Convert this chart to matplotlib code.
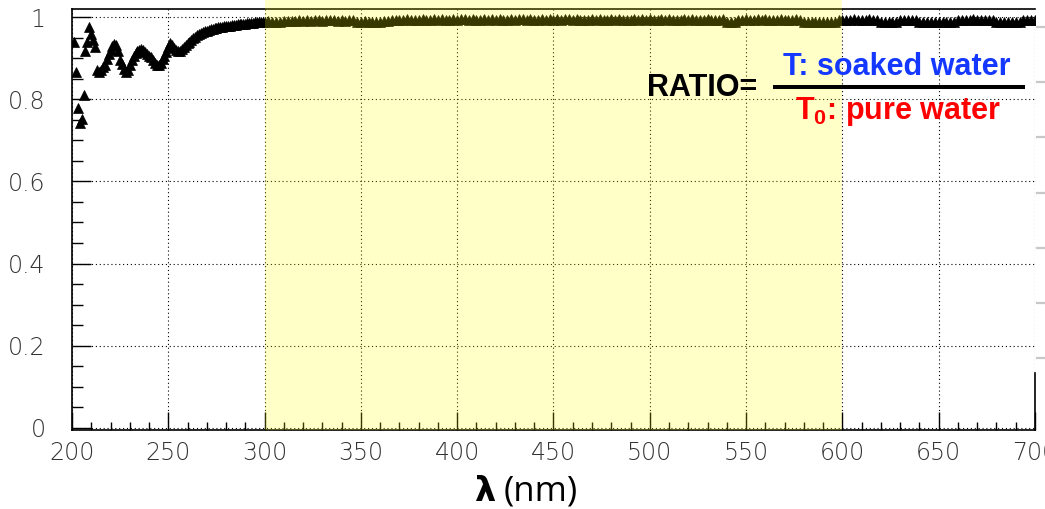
import matplotlib
matplotlib.use('Agg')
import matplotlib.pyplot as plt
import numpy as np
from matplotlib.ticker import MultipleLocator, FuncFormatter

# transmittance ratio of soaked water over pure water
# scattered points at the deep-UV end
wl_uv = [201, 202, 203, 204, 205, 206, 207, 208, 209, 210, 211, 212]
ratio_uv = [0.938, 0.865, 0.779, 0.742, 0.752, 0.810, 0.918, 0.940,
            0.976, 0.958, 0.944, 0.926]

# 213 - 299 nm, 1 nm steps
wl_mid = np.arange(213, 300)
ratio_mid = [0.872, 0.866, 0.871, 0.878, 0.884, 0.897, 0.911, 0.920, 0.929, 0.935,
             0.931, 0.918, 0.896, 0.886, 0.874, 0.867, 0.872, 0.884, 0.896, 0.905,
             0.913, 0.917, 0.919, 0.922, 0.920, 0.914, 0.909, 0.906, 0.903, 0.896,
             0.889, 0.884, 0.883, 0.889, 0.897, 0.905, 0.916, 0.928, 0.936, 0.933,
             0.925, 0.919, 0.918, 0.917, 0.921, 0.926, 0.931, 0.936, 0.940, 0.944,
             0.948, 0.952, 0.956, 0.959, 0.961, 0.963, 0.965, 0.967, 0.969, 0.970,
             0.972, 0.973, 0.974, 0.975, 0.975, 0.976, 0.977, 0.978, 0.978, 0.979,
             0.980, 0.981, 0.981, 0.982, 0.983, 0.983, 0.984, 0.984, 0.985, 0.985,
             0.986, 0.986, 0.987, 0.987, 0.988, 0.988, 0.989]

# 300 - 700 nm, 2 nm steps
wl_vis = np.arange(300, 701, 2)
ratio_vis = [0.989, 0.990, 0.988, 0.987, 0.988, 0.990, 0.991, 0.990, 0.991, 0.992,
             0.991, 0.992, 0.991, 0.993, 0.992, 0.991, 0.992, 0.993, 0.992, 0.991,
             0.992, 0.991, 0.993, 0.992, 0.989, 0.988, 0.990, 0.988, 0.989, 0.988,
             0.989, 0.990, 0.991, 0.992, 0.993, 0.992, 0.993, 0.994, 0.993, 0.992,
             0.993, 0.994, 0.993, 0.992, 0.994, 0.993, 0.994, 0.993, 0.992, 0.994,
             0.993, 0.994, 0.995, 0.993, 0.994, 0.993, 0.992, 0.994, 0.993, 0.994,
             0.993, 0.994, 0.993, 0.992, 0.994, 0.993, 0.994, 0.995, 0.993, 0.994,
             0.993, 0.992, 0.994, 0.993, 0.994, 0.993, 0.994, 0.993, 0.995, 0.994,
             0.993, 0.994, 0.993, 0.992, 0.993, 0.994, 0.993, 0.994, 0.993, 0.992,
             0.994, 0.993, 0.994, 0.993, 0.992, 0.993, 0.994, 0.993, 0.994, 0.993,
             0.994, 0.993, 0.992, 0.994, 0.993, 0.994, 0.993, 0.992, 0.993, 0.994,
             0.993, 0.994, 0.993, 0.992, 0.993, 0.994, 0.993, 0.992, 0.993, 0.994,
             0.989, 0.988, 0.989, 0.992, 0.993, 0.994, 0.993, 0.992, 0.994, 0.993,
             0.994, 0.993, 0.992, 0.993, 0.994, 0.993, 0.992, 0.993, 0.994, 0.992,
             0.989, 0.988, 0.989, 0.988, 0.989, 0.988, 0.989, 0.988, 0.989, 0.992,
             0.993, 0.992, 0.993, 0.994, 0.993, 0.992, 0.993, 0.994, 0.993, 0.992,
             0.989, 0.988, 0.989, 0.988, 0.989, 0.992, 0.993, 0.992, 0.993, 0.992,
             0.989, 0.988, 0.989, 0.988, 0.989, 0.988, 0.989, 0.988, 0.989, 0.988,
             0.992, 0.993, 0.992, 0.993, 0.994, 0.993, 0.992, 0.993, 0.992, 0.993,
             0.989, 0.988, 0.989, 0.988, 0.989, 0.988, 0.989, 0.992, 0.993, 0.992,
             0.992]

band = (300, 600)  # highlighted wavelength window

plt.rcParams['mathtext.fontset'] = 'custom'
plt.rcParams['mathtext.rm'] = 'Liberation Sans:bold'
plt.rcParams['mathtext.it'] = 'Liberation Sans:bold'
plt.rcParams['mathtext.bf'] = 'Liberation Sans:bold'

W, H = 1045, 509
fig = plt.figure(figsize=(W / 100, H / 100), dpi=100)
ax = fig.add_axes([72 / W, 1 - 430 / H, (1035 - 72) / W, (430 - 9) / H])

wl = np.concatenate([wl_uv, wl_mid, wl_vis])
ratio = np.concatenate([ratio_uv, ratio_mid, ratio_vis])
ax.plot(wl, ratio, linestyle='none', marker='^', ms=6.5,
        color='black', mec='black', mew=0.5, zorder=3)

ax.set_xlim(200, 700)
ax.set_ylim(-0.005, 1.0195)
ax.xaxis.set_major_locator(MultipleLocator(50))
ax.xaxis.set_minor_locator(MultipleLocator(10))
ax.yaxis.set_major_locator(MultipleLocator(0.2))
ax.yaxis.set_minor_locator(MultipleLocator(0.05))
ax.yaxis.set_major_formatter(FuncFormatter(lambda v, p: '%g' % round(v, 2)))

ax.tick_params(which='both', direction='in', top=False, right=False,
               color='black', width=1)
ax.tick_params(axis='y', which='major', length=14, pad=19)
ax.tick_params(axis='y', which='minor', length=8)
ax.tick_params(axis='x', which='major', length=13, pad=8)
ax.tick_params(axis='x', which='minor', length=6)
for lab in ax.get_xticklabels() + ax.get_yticklabels():
    lab.set_fontsize(17)
    lab.set_color('#333333')
    lab.set_fontweight('light')

ax.grid(True, which='major', linestyle=(0, (1, 2.5)), color='black', lw=0.8)
for s in ax.spines.values():
    s.set_linewidth(1.2)
ax.spines['right'].set_bounds(-0.005, 0.134)

# translucent yellow highlight over the 300-600 nm window
ax.axvspan(band[0], band[1], ymin=0, ymax=1.05, color='yellow', alpha=0.22,
           lw=0, clip_on=False, zorder=4)

# light grey dashes along the right margin
for k in range(7):
    y = 1 - (27 + 55.2 * k) / H
    fig.add_artist(plt.Line2D([1037 / W, 1.0], [y, y], color='#c8c8c8',
                              lw=1.6, transform=fig.transFigure))

# axis title
fig.text(474 / W, 1 - 501 / H, 'λ', fontsize=24, fontweight='bold',
         family='DejaVu Sans', va='baseline', ha='left')
fig.text(504 / W, 1 - 501 / H, '(nm)', fontsize=25, family='Open Sans',
         va='baseline', ha='left')

# ratio definition
fig.text(647 / W, 1 - 96 / H, 'RATIO=', fontsize=22, fontweight='bold',
         family='Liberation Sans', va='baseline', ha='left', zorder=6)
fig.text(783 / W, 1 - 75 / H, 'T: soaked water', fontsize=22, fontweight='bold',
         family='Liberation Sans', color='#1438ff', va='baseline',
         ha='left', zorder=6)
fig.text(795 / W, 1 - 119 / H, r'T$_{0}$: pure water', fontsize=22,
         fontweight='bold', family='Liberation Sans', color='#ff0000',
         va='baseline', ha='left', zorder=6)
fig.add_artist(plt.Line2D([775 / W, 1023 / W], [1 - 87 / H, 1 - 87 / H],
                          color='black', lw=2.9, transform=fig.transFigure))

fig.savefig('out.png', dpi=100)
